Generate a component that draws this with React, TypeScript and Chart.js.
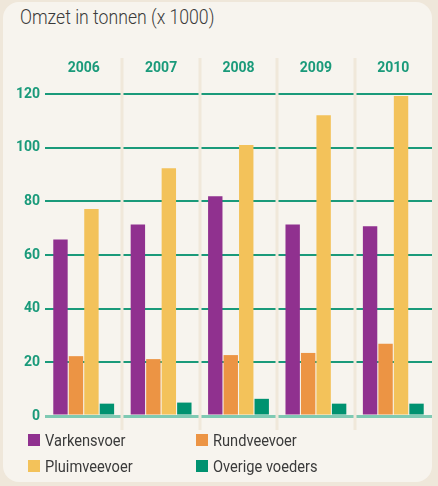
import React, { useEffect, useRef } from "react";
import { Chart, registerables } from "chart.js";

Chart.register(...registerables);

const years = ["2006", "2007", "2008", "2009", "2010"];
const varkensvoer = [65.8, 71.4, 81.9, 71.4, 70.7];
const rundveevoer = [22.3, 21.2, 22.7, 23.5, 26.9];
const pluimveevoer = [77.1, 92.3, 101, 112.1, 119.3];
const overigeVoeders = [4.6, 5.0, 6.4, 4.6, 4.6];
const seriesNames = ["Varkensvoer", "Rundveevoer", "Pluimveevoer", "Overige voeders"];
const seriesColors = ["#90318f", "#ec9444", "#f3c25a", "#009270"];
const title = "Omzet in tonnen (x 1000)";

const FONT = "'Roboto', 'Liberation Sans', sans-serif";
const GREEN = "#1a9a7a";

const separators = {
  id: "separators",
  beforeDatasetsDraw(chart: any) {
    const { ctx, scales } = chart;
    const x = scales.x;
    const n = x.ticks.length;
    const step = (x.right - x.left) / n;
    ctx.save();
    ctx.strokeStyle = "#f0e8da";
    ctx.lineWidth = 3;
    for (let i = 1; i < n; i++) {
      const px = Math.round(x.left + step * i);
      ctx.beginPath();
      ctx.moveTo(px, 58);
      ctx.lineTo(px, 430);
      ctx.stroke();
    }
    ctx.restore();
  },
};

export default function App() {
  const ref = useRef<HTMLCanvasElement>(null);
  useEffect(() => {
    document.body.style.margin = "0";
    const data = [varkensvoer, rundveevoer, pluimveevoer, overigeVoeders];
    const chart = new Chart(ref.current!, {
      type: "bar",
      data: {
        labels: years,
        datasets: data.map((d, i) => ({
          label: seriesNames[i],
          data: d,
          backgroundColor: seriesColors[i],
          borderWidth: 0,
          categoryPercentage: 0.8,
          barPercentage: 0.93,
        })),
      },
      plugins: [separators],
      options: {
        animation: false,
        responsive: false,
        maintainAspectRatio: false,
        layout: { padding: { left: 0, right: 6, top: 0, bottom: 70 } },
        plugins: { legend: { display: false }, tooltip: { enabled: false } },
        scales: {
          x: {
            position: "top",
            grid: { display: false, drawTicks: false },
            border: { display: false },
            ticks: {
              color: GREEN,
              padding: 17,
              font: { family: FONT, size: 14, weight: "bold" },
            },
            afterFit: (s: any) => {
              s.height = 94;
            },
          },
          y: {
            min: 0,
            max: 120,
            grid: {
              drawTicks: false,
              color: (c: any) => (c.tick && c.tick.value === 0 ? "#7fcab3" : GREEN),
              lineWidth: (c: any) => (c.tick && c.tick.value === 0 ? 3 : 2),
            },
            border: { display: false },
            ticks: {
              stepSize: 20,
              color: GREEN,
              padding: 5,
              font: { family: FONT, size: 14, weight: "bold" },
            },
            afterFit: (s: any) => {
              s.width = 45;
            },
          },
        },
      },
    });
    return () => chart.destroy();
  }, []);

  const legendItem = (i: number, left: number, top: number) => (
    <div
      key={i}
      style={{ position: "absolute", left, top, display: "flex", alignItems: "center" }}
    >
      <div style={{ width: 12, height: 12, background: seriesColors[i], marginRight: 5 }} />
      <span
        style={{
          fontFamily: FONT,
          fontSize: 17,
          color: "#3a3a3a",
          whiteSpace: "nowrap",
          display: "inline-block",
          transform: "scaleX(0.86)",
          transformOrigin: "left center",
        }}
      >
        {seriesNames[i]}
      </span>
    </div>
  );

  return (
    <div style={{ position: "relative", width: 438, height: 486, background: "#efe7da", overflow: "hidden" }}>
      <div
        style={{
          position: "absolute",
          left: 3,
          top: 2,
          width: 429,
          height: 480,
          background: "#f7f4ee",
          borderRadius: 16,
        }}
      />
      <div
        style={{
          position: "absolute",
          left: 20,
          top: 5,
          fontFamily: FONT,
          fontSize: 21,
          fontWeight: 300,
          color: "#3a3a3a",
          whiteSpace: "nowrap",
          transform: "scaleX(0.84)",
          transformOrigin: "left center",
        }}
      >
        {title}
      </div>
      <canvas ref={ref} width={438} height={486} style={{ position: "absolute", left: 0, top: 0 }} />
      {legendItem(0, 28, 430)}
      {legendItem(1, 196, 430)}
      {legendItem(2, 28, 456)}
      {legendItem(3, 196, 456)}
    </div>
  );
}
